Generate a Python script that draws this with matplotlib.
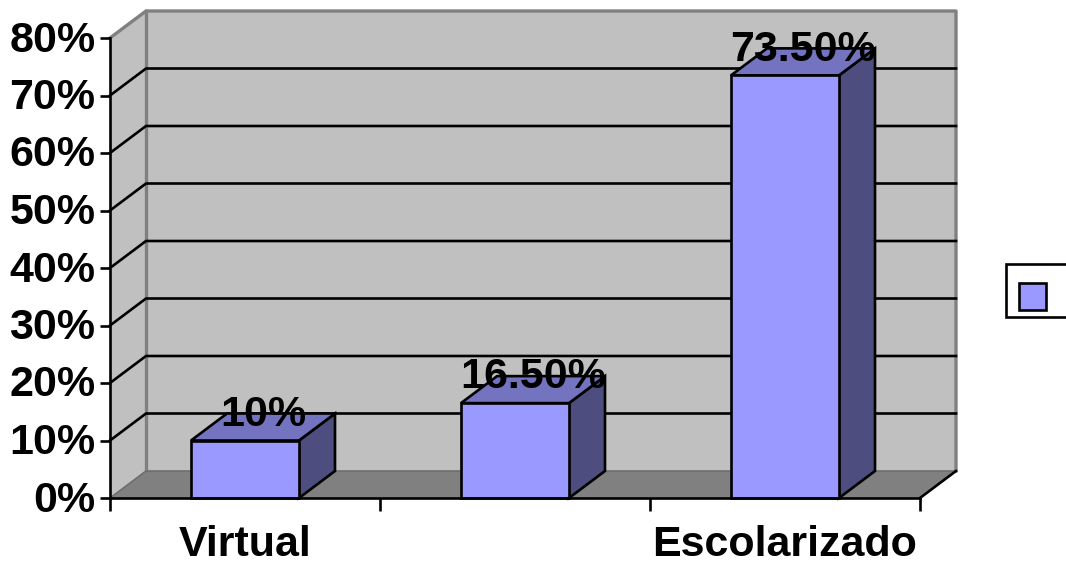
import matplotlib
matplotlib.use('Agg')
import matplotlib.pyplot as plt
from matplotlib.patches import Polygon, Rectangle
from matplotlib.transforms import ScaledTranslation

categories = ["Virtual", "", "Escolarizado"]
values = [10, 16.5, 73.5]
value_labels = ["10%", "16.50%", "73.50%"]
y_ticks = [0, 10, 20, 30, 40, 50, 60, 70, 80]

W, H = 1066, 562
BLACK = '#000000'
WALL = '#c0c0c0'
FLOOR = '#808080'
BAR_FRONT = '#9999ff'
BAR_TOP = '#7373bf'
BAR_SIDE = '#4d4d80'
LW = 1.9
FS = 31

plt.rcParams['font.family'] = ['Liberation Sans', 'DejaVu Sans']
plt.rcParams['font.weight'] = 'bold'

fig = plt.figure(figsize=(W / 100, H / 100), dpi=100)
# front plane of the 3d box, in pixels of the picture
left, right, top, bottom = 110, 920, 38, 498
ax = fig.add_axes([left / W, 1 - bottom / H, (right - left) / W, (bottom - top) / H])
ax.set_xlim(0, 3)
ax.set_ylim(0, 80)
ax.patch.set_visible(False)

# depth of the box in data units
dx = 36 / ((right - left) / 3)
dy = 27 / ((bottom - top) / 80)


def poly(pts, fc, ec=BLACK, lw=LW, z=2):
    ax.add_patch(Polygon(pts, closed=True, facecolor=fc, edgecolor=ec, linewidth=lw,
                         clip_on=False, zorder=z, joinstyle='miter'))


# walls and floor
poly([(0, 0), (dx, dy), (3 + dx, dy), (3 + dx, 80 + dy), (dx, 80 + dy)], WALL, ec='none', lw=0, z=1)
poly([(0, 0), (0, 80), (dx, 80 + dy), (dx, dy)], WALL, ec='none', lw=0, z=1)
poly([(0, 0), (dx, dy), (3 + dx, dy), (3, 0)], FLOOR, ec='none', lw=0, z=1)

# wall edges
ax.plot([0, dx, 3 + dx, 3 + dx], [80, 80 + dy, 80 + dy, dy], color=FLOOR, lw=2.4, clip_on=False, zorder=1.5)
ax.plot([dx, dx], [dy, 80 + dy], color=FLOOR, lw=2.4, clip_on=False, zorder=1.5)
ax.plot([0, dx, 3 + dx], [0, dy, dy], color='#6e6e6e', lw=1.2, clip_on=False, zorder=1.5)
ax.plot([3, 3 + dx], [0, dy], color=BLACK, lw=LW, clip_on=False, zorder=1.5)

# gridlines
for t in y_ticks[1:-1]:
    ax.plot([0, dx, 3 + dx], [t, t + dy, t + dy], color=BLACK, lw=LW, clip_on=False, zorder=1.6)

# bars
bar_w = 0.4
for i, v in enumerate(values):
    x0 = i + 0.5 - bar_w / 2
    x1 = i + 0.5 + bar_w / 2
    poly([(x1, 0), (x1 + dx, dy), (x1 + dx, v + dy), (x1, v)], BAR_SIDE, z=3)
    poly([(x0, v), (x0 + dx, v + dy), (x1 + dx, v + dy), (x1, v)], BAR_TOP, z=3)
    poly([(x0, 0), (x1, 0), (x1, v), (x0, v)], BAR_FRONT, z=3)
    ax.text(i + 0.5 + dx / 2, v + dy - 0.2, value_labels[i], ha='center', va='center',
            fontsize=FS, color=BLACK, zorder=4, clip_on=False)

# axes
for s in ['top', 'right']:
    ax.spines[s].set_visible(False)
for s in ['left', 'bottom']:
    ax.spines[s].set_linewidth(LW)
    ax.spines[s].set_zorder(3.5)
ax.set_yticks(y_ticks)
ax.set_yticklabels([f"{t}%" for t in y_ticks], fontsize=FS)
ax.set_xticks([0, 1, 2, 3])
ax.set_xticklabels([])
ax.tick_params(axis='y', length=7, width=LW, pad=3.5)
ax.tick_params(axis='x', length=9, width=LW)
# labels sit a little above their ticks
shift = ScaledTranslation(0, 2 / 100, fig.dpi_scale_trans)
for lab in ax.get_yticklabels():
    lab.set_transform(lab.get_transform() + shift)
for i, c in enumerate(categories):
    ax.text(i + 0.5, -8.2, c, ha='center', va='center', fontsize=FS, color=BLACK)

# legend box, cut by the right edge of the picture
fig.add_artist(Rectangle((1006 / W, 1 - 317 / H), 70 / W, 53 / H, transform=fig.transFigure,
                         facecolor='white', edgecolor=BLACK, linewidth=LW))
fig.add_artist(Rectangle((1019 / W, 1 - 310 / H), 27 / W, 27 / H, transform=fig.transFigure,
                         facecolor=BAR_FRONT, edgecolor=BLACK, linewidth=LW))

fig.savefig('out.png', dpi=100)
